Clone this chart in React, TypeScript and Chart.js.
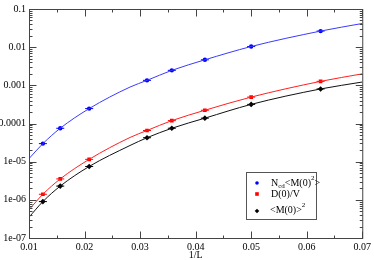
import React, { useEffect, useRef } from "react";
import { Chart, registerables } from "chart.js";
Chart.register(...registerables);

// ---- data ----
const invL = [0.0125, 0.015625, 0.0208333, 0.03125, 0.0357143, 0.0416667, 0.05, 0.0625];
const ncdM2 = [2.97e-5, 7.5e-5, 2.46e-4, 1.35e-3, 2.47e-3, 4.66e-3, 1.04e-2, 2.64e-2];
const d0V = [1.4e-6, 3.53e-6, 1.15e-5, 6.56e-5, 1.19e-4, 2.22e-4, 4.92e-4, 1.27e-3];
const m0sq = [9.0e-7, 2.29e-6, 7.48e-6, 4.24e-5, 7.5e-5, 1.38e-4, 3.17e-4, 8.04e-4];

const fitX = [0.01, 0.0125, 0.015625, 0.0208333, 0.02818, 0.03125, 0.0357143, 0.0416667, 0.05, 0.0625, 0.07];
const fitNcd = [1.2e-5, 2.97e-5, 7.5e-5, 2.46e-4, 9.0e-4, 1.35e-3, 2.47e-3, 4.66e-3, 1.04e-2, 2.64e-2, 4.17e-2];
const fitD0V = [5.5e-7, 1.4e-6, 3.53e-6, 1.15e-5, 4.3e-5, 6.56e-5, 1.19e-4, 2.22e-4, 4.92e-4, 1.27e-3, 2.0e-3];
const fitM0sq = [3.5e-7, 9.0e-7, 2.29e-6, 7.48e-6, 2.65e-5, 4.24e-5, 7.5e-5, 1.38e-4, 3.17e-4, 8.04e-4, 1.22e-3];

const xTickValues = [0.01, 0.02, 0.03, 0.04, 0.05, 0.06, 0.07];
const xTickLabels = ["0.01", "0.02", "0.03", "0.04", "0.05", "0.06", "0.07"];
const xMinorValues = [0.015, 0.025, 0.035, 0.045, 0.055, 0.065];
const yTickValues = [1e-7, 1e-6, 1e-5, 1e-4, 1e-3, 1e-2, 1e-1];
const yTickLabels = ["1e-07", "1e-06", "1e-05", "0.0001", "0.001", "0.01", "0.1"];

const seriesColors = ["#0000ff", "#ff0000", "#000000"];
const fitColors = ["#3a3aff", "#ff2020", "#111111"];
const FONT = "'Liberation Serif', 'DejaVu Serif', serif";

const pts = (xs: number[], ys: number[]) => xs.map((x, i) => ({ x, y: ys[i] }));

const framePlugin = {
  id: "frameTicksLegend",
  afterDatasetsDraw(chart: any) {
    const { ctx, chartArea, scales } = chart;
    const { left, right, top, bottom } = chartArea;
    const xs = scales.x;
    const ys = scales.y;
    ctx.save();
    ctx.strokeStyle = "#444";
    ctx.lineWidth = 1;
    ctx.strokeRect(left + 0.5, top + 0.5, right - left, bottom - top);
    ctx.beginPath();
    const hx = (v: number, len: number) => {
      const p = Math.round(xs.getPixelForValue(v)) + 0.5;
      ctx.moveTo(p, bottom + 0.5);
      ctx.lineTo(p, bottom + 0.5 - len);
      ctx.moveTo(p, top + 0.5);
      ctx.lineTo(p, top + 0.5 + len);
    };
    const vy = (v: number, len: number) => {
      const p = Math.round(ys.getPixelForValue(v)) + 0.5;
      ctx.moveTo(left + 0.5, p);
      ctx.lineTo(left + 0.5 + len, p);
      ctx.moveTo(right + 0.5, p);
      ctx.lineTo(right + 0.5 - len, p);
    };
    xTickValues.forEach((v) => hx(v, 7));
    xMinorValues.forEach((v) => hx(v, 3));
    yTickValues.forEach((v) => vy(v, 7));
    for (let i = 0; i < yTickValues.length - 1; i++) {
      for (let k = 2; k <= 9; k++) vy(yTickValues[i] * k, 3);
    }
    ctx.stroke();

    // legend
    const lx = 246, ly = 172, lw = 70, lh = 47;
    ctx.fillStyle = "#fff";
    ctx.fillRect(lx, ly, lw, lh);
    ctx.strokeStyle = "#555";
    ctx.strokeRect(lx + 0.5, ly + 0.5, lw, lh);
    const mx = 257;
    // markers
    ctx.fillStyle = seriesColors[0];
    ctx.beginPath();
    ctx.arc(mx, 183, 1.8, 0, Math.PI * 2);
    ctx.fill();
    ctx.fillStyle = seriesColors[1];
    ctx.fillRect(mx - 1.8, 194 - 1.8, 3.6, 3.6);
    ctx.fillStyle = seriesColors[2];
    ctx.beginPath();
    ctx.moveTo(mx, 211 - 2.3);
    ctx.lineTo(mx + 2.3, 211);
    ctx.lineTo(mx, 211 + 2.3);
    ctx.lineTo(mx - 2.3, 211);
    ctx.closePath();
    ctx.fill();

    ctx.fillStyle = "#000";
    ctx.textBaseline = "alphabetic";
    ctx.textAlign = "left";
    const big = `10px ${FONT}`;
    const small = `7px ${FONT}`;
    const runs = (x: number, base: number, parts: [string, string, number][]) => {
      let cx = x;
      for (const [t, f, dy] of parts) {
        ctx.font = f;
        ctx.fillText(t, cx, base + dy);
        cx += ctx.measureText(t).width;
      }
    };
    runs(271, 186, [["N", big, 0], ["cd", small, 2], ["<M(0)", big, 0], ["2", small, -6], [">", big, 0]]);
    runs(271, 197, [["D(0)/V", big, 0]]);
    runs(270, 213, [["<M(0)>", big, 0], ["2", small, -6]]);
    ctx.restore();
  },
};

export default function App() {
  const ref = useRef<HTMLCanvasElement>(null);
  useEffect(() => {
    if (!ref.current) return;
    const fits = [fitNcd, fitD0V, fitM0sq];
    const series = [ncdM2, d0V, m0sq];
    const styles = ["circle", "rect", "rectRot"];
    const radii = [2.2, 2.6, 2.8];
    const datasets: any[] = [];
    fits.forEach((f, i) => {
      datasets.push({
        data: pts(fitX, f),
        borderColor: fitColors[i],
        borderWidth: 1,
        pointRadius: 0,
        cubicInterpolationMode: "monotone",
        fill: false,
      });
    });
    series.forEach((s, i) => {
      datasets.push({
        data: pts(invL, s),
        showLine: false,
        pointStyle: "line",
        pointRadius: 4,
        pointBorderWidth: 1,
        pointBorderColor: seriesColors[i],
        pointBackgroundColor: seriesColors[i],
      });
      datasets.push({
        data: pts(invL, s),
        showLine: false,
        pointStyle: styles[i],
        pointRadius: radii[i],
        pointBorderWidth: 0,
        pointBackgroundColor: seriesColors[i],
        pointBorderColor: seriesColors[i],
      });
    });
    const chart = new Chart(ref.current, {
      type: "line",
      data: { datasets },
      options: {
        animation: false,
        responsive: false,
        events: [],
        layout: { padding: { top: 4, right: 11, left: 0, bottom: 0 } },
        plugins: { legend: { display: false }, tooltip: { enabled: false } },
        scales: {
          x: {
            type: "linear",
            min: 0.01,
            max: 0.07,
            grid: { display: false, drawTicks: false },
            border: { display: false },
            afterBuildTicks: (s: any) => {
              s.ticks = xTickValues.map((v) => ({ value: v }));
            },
            afterFit: (s: any) => {
              s.height = 22;
            },
            ticks: {
              autoSkip: false,
              maxRotation: 0,
              padding: 3,
              color: "#000",
              font: { family: FONT, size: 10 },
              callback: (_v: any, i: number) => xTickLabels[i],
            },
            title: {
              display: true,
              text: "1/L",
              color: "#000",
              font: { family: FONT, size: 10, lineHeight: 1 },
              padding: { top: 0, bottom: 0 },
            },
          },
          y: {
            type: "logarithmic",
            min: 1e-7,
            max: 0.1,
            grid: { display: false, drawTicks: false },
            border: { display: false },
            afterBuildTicks: (s: any) => {
              s.ticks = yTickValues.map((v) => ({ value: v, major: true }));
            },
            afterFit: (s: any) => {
              s.width = 29;
            },
            ticks: {
              autoSkip: false,
              padding: 3,
              color: "#000",
              font: { family: FONT, size: 10 },
              callback: (_v: any, i: number) => yTickLabels[i],
            },
          },
        },
      } as any,
      plugins: [framePlugin],
    });
    return () => chart.destroy();
  }, []);
  return (
    <div style={{ position: "absolute", left: 0, top: 0, width: 374, height: 260, background: "#fff" }}>
      <canvas ref={ref} width={374} height={260} style={{ display: "block" }} />
    </div>
  );
}
